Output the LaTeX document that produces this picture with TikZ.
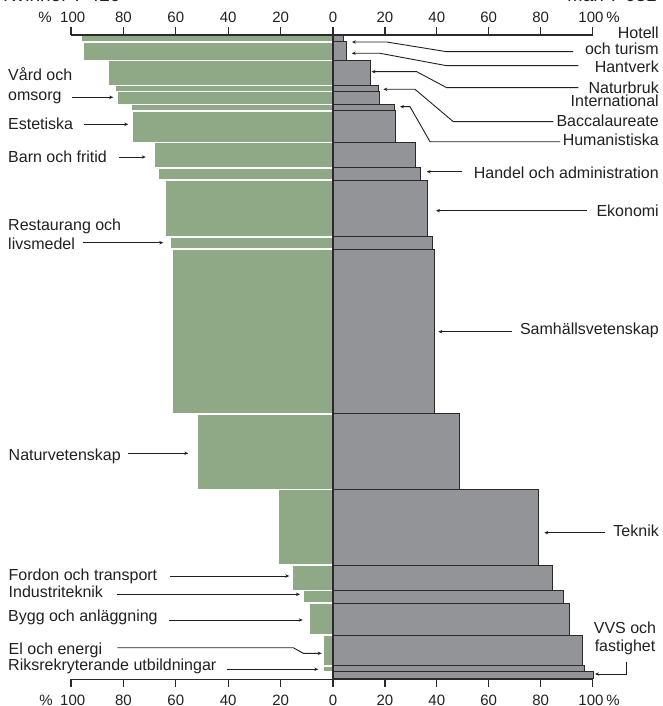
\documentclass[tikz,border=0pt]{standalone}
\usepackage{fontspec}
\setmainfont{Liberation Sans}
\usetikzlibrary{arrows.meta}
\definecolor{barG}{HTML}{8FA987}
\definecolor{barK}{HTML}{939497}
\definecolor{txt}{HTML}{231F20}
\definecolor{edge}{HTML}{2A2A2C}
\begin{document}
\begin{tikzpicture}[x=1pt,y=-1pt,
  lab/.style={font=\fontsize{16}{19}\selectfont, text=txt, inner sep=0pt},
  ttl/.style={font=\fontsize{19}{22}\selectfont, text=txt, inner sep=0pt},
  num/.style={font=\fontsize{15}{18}\selectfont, text=txt, inner sep=0pt},
  lead/.style={draw=txt, line width=0.9pt, -{Stealth[length=4pt,width=3.4pt]}},
  gbar/.style={fill=barG, draw=white, line width=1.6pt},
  kbar/.style={fill=barK, draw=edge, line width=1pt},
  axis/.style={draw=edge, line width=1.2pt},
]
\useasboundingbox (0,0) rectangle (663,706);

% titles (cut off at top)
\node[ttl, anchor=base west] (kv) at (3,2) {Kvinnor 7 420};
\node[ttl, anchor=base east] (man) at (657,2) {Män 7 031};

% bars
\foreach \t/\b/\l/\r in {35/42/81/343, 42/60.5/83/346, 60.5/85.5/107.7/370.7,
  85.5/91.5/115/378, 91.5/104.5/117/379.3, 104.5/110.8/131/394, 110.8/142.3/132/395,
  142.3/167.8/154/415.7, 167.8/180/158/420.7, 180/236.7/165/427.7, 236.7/249/170/432.3,
  249/413.7/172/434, 413.7/489.5/197/459, 489.5/565/278/538.7, 565/590.5/292/552.3,
  590.5/603/303/563.3, 603/635/309/569.3, 635/665.7/323/582.3, 665.7/671.3/323/584,
  671.3/678/333/593.3}{
  \ifdim \l pt<333pt \filldraw[gbar] (\l,\t) rectangle (333,\b); \fi
  \filldraw[kbar] (333,\t) rectangle (\r,\b);
}

% axes
\draw[axis] (71,35) -- (592.5,35);
\draw[axis] (71,679.3) -- (592.5,679.3);
\draw[axis] (333,27) -- (333,687);
\foreach \k in {0,20,40,60,80,100}{
  \draw[axis] ({333-2.62*\k},35) -- ({333-2.62*\k},27);
  \draw[axis] ({333+2.595*\k},35) -- ({333+2.595*\k},27);
  \draw[axis] ({333-2.62*\k},679.3) -- ({333-2.62*\k},687);
  \draw[axis] ({333+2.595*\k},679.3) -- ({333+2.595*\k},687);
}
\foreach \k/\n in {20/a,40/b,60/c,80/d}{
  \node[num] (tl\n) at ({333-2.62*\k},17.5) {\k};
  \node[num] (tr\n) at ({333+2.595*\k},17.5) {\k};
  \node[num] (bl\n) at ({333-2.62*\k},700) {\k};
  \node[num] (br\n) at ({333+2.595*\k},700) {\k};
}
\node[num] (t0) at (333,17.5) {0};
\node[num] (b0) at (333,700) {0};
\node[num] (tl100) at (72.7,17.5) {100};
\node[num] (tr100) at (591,17.5) {100};
\node[num] (bl100) at (72.7,700) {100};
\node[num] (br100) at (591,700) {100};
\node[num] (tlp) at (45,17.5) {\%};
\node[num] (trp) at (613,17.5) {\%};
\node[num] (blp) at (46,700) {\%};
\node[num] (brp) at (613,700) {\%};

% right labels
\node[lab, anchor=base east] (hot1) at (659,39) {Hotell};
\node[lab, anchor=base east] (hot2) at (659,54.3) {och turism};
\node[lab, anchor=base east] (hant) at (659,72.7) {Hantverk};
\node[lab, anchor=base east] (natb) at (659,94) {Naturbruk};
\node[lab, anchor=base east] (intl) at (659,106.7) {International};
\node[lab, anchor=base east] (bacc) at (659,126) {Baccalaureate};
\node[lab, anchor=base east] (huma) at (659,146) {Humanistiska};
\node[lab, anchor=base east] (hand) at (659,178.3) {Handel och administration};
\node[lab, anchor=base east] (ekon) at (659,216.7) {Ekonomi};
\node[lab, anchor=base east] (samh) at (659,334.3) {Samhällsvetenskap};
\node[lab, anchor=base east] (tekn) at (659,536.7) {Teknik};
\node[lab, anchor=base] (vvs1) at (625,633.3) {VVS och};
\node[lab, anchor=base] (vvs2) at (625,651.7) {fastighet};

% left labels
\node[lab, anchor=base west] (vard1) at (8,80.7) {Vård och};
\node[lab, anchor=base west] (vard2) at (8,100.7) {omsorg};
\node[lab, anchor=base west] (este) at (8,129.3) {Estetiska};
\node[lab, anchor=base west] (barn) at (8,162.3) {Barn och fritid};
\node[lab, anchor=base west] (rest1) at (8,230) {Restaurang och};
\node[lab, anchor=base west] (rest2) at (8,249) {livsmedel};
\node[lab, anchor=base west] (natv) at (8.5,460) {Naturvetenskap};
\node[lab, anchor=base west] (ford) at (8.5,580.7) {Fordon och transport};
\node[lab, anchor=base west] (indu) at (8.5,597.7) {Industriteknik};
\node[lab, anchor=base west] (bygg) at (8,621.7) {Bygg och anläggning};
\node[lab, anchor=base west] (eloe) at (8.5,654) {El och energi};
\node[lab, anchor=base west] (riks) at (8,670.3) {Riksrekryterande utbildningar};

% leader coordinates
\coordinate (hotS) at (573,51.7);   \coordinate (hotT) at (352,42);
\coordinate (hanS) at (578.3,65.7); \coordinate (hanT) at (351.7,53.3);
\coordinate (natS) at (578.3,87.7); \coordinate (natT) at (371.5,71.7);
\coordinate (bacS) at (553.3,121.7);\coordinate (bacT) at (383.3,89.3);
\coordinate (humS) at (560,141.7);  \coordinate (humT) at (400,106.7);
\coordinate (hadS) at (461.7,171.7);\coordinate (hadT) at (426.7,171.7);
\coordinate (ekoS) at (586.7,210.7);\coordinate (ekoT) at (436,210.7);
\coordinate (samS) at (511.7,331.7);\coordinate (samT) at (438.3,331.7);
\coordinate (tekS) at (605,532.7);  \coordinate (tekT) at (544.3,532.7);
\coordinate (vvsS) at (626.7,661.7);\coordinate (vvsT) at (595,674);
\coordinate (varS) at (71.7,97.3);  \coordinate (varT) at (113.3,97.3);
\coordinate (estS) at (84.3,124.3); \coordinate (estT) at (128.3,124.3);
\coordinate (barS) at (119.3,157);  \coordinate (barT) at (145.7,157);
\coordinate (resS) at (82.7,242.7); \coordinate (resT) at (163.3,242.7);
\coordinate (nvS) at (128.3,453.3); \coordinate (nvT) at (188.3,453.3);
\coordinate (forS) at (170,576);    \coordinate (forT) at (289.3,576);
\coordinate (indS) at (116.7,594.3);\coordinate (indT) at (300,594.3);
\coordinate (bygS) at (169.3,620);  \coordinate (bygT) at (302.7,620);
\coordinate (elS) at (117.3,647.7); \coordinate (elT) at (321.7,653.3);
\coordinate (rikS) at (226.7,669.3);\coordinate (rikT) at (318.3,669.3);

% leaders
\draw[lead] (hotS) -- (446.7,51.7) -- (386.7,42) -- (hotT);
\draw[lead] (hanS) -- (446.7,65.7) -- (380,53.3) -- (hanT);
\draw[lead] (natS) -- (446.7,87.7) -- (416.7,71.7) -- (natT);
\draw[lead] (bacS) -- (453.3,121.7) -- (415,89.3) -- (bacT);
\draw[lead] (humS) -- (430,141.7) -- (410,106.7) -- (humT);
\draw[lead] (hadS) -- (hadT);
\draw[lead] (ekoS) -- (ekoT);
\draw[lead] (samS) -- (samT);
\draw[lead] (tekS) -- (tekT);
\draw[lead] (vvsS) |- (vvsT);
\draw[lead] (varS) -- (varT);
\draw[lead] (estS) -- (estT);
\draw[lead] (barS) -- (barT);
\draw[lead] (resS) -- (resT);
\draw[lead] (nvS) -- (nvT);
\draw[lead] (forS) -- (forT);
\draw[lead] (indS) -- (indT);
\draw[lead] (bygS) -- (bygT);
\draw[lead] (elS) -- (293.3,647.7) -- (303.3,653.3) -- (elT);
\draw[lead] (rikS) -- (rikT);
\end{tikzpicture}
\end{document}
